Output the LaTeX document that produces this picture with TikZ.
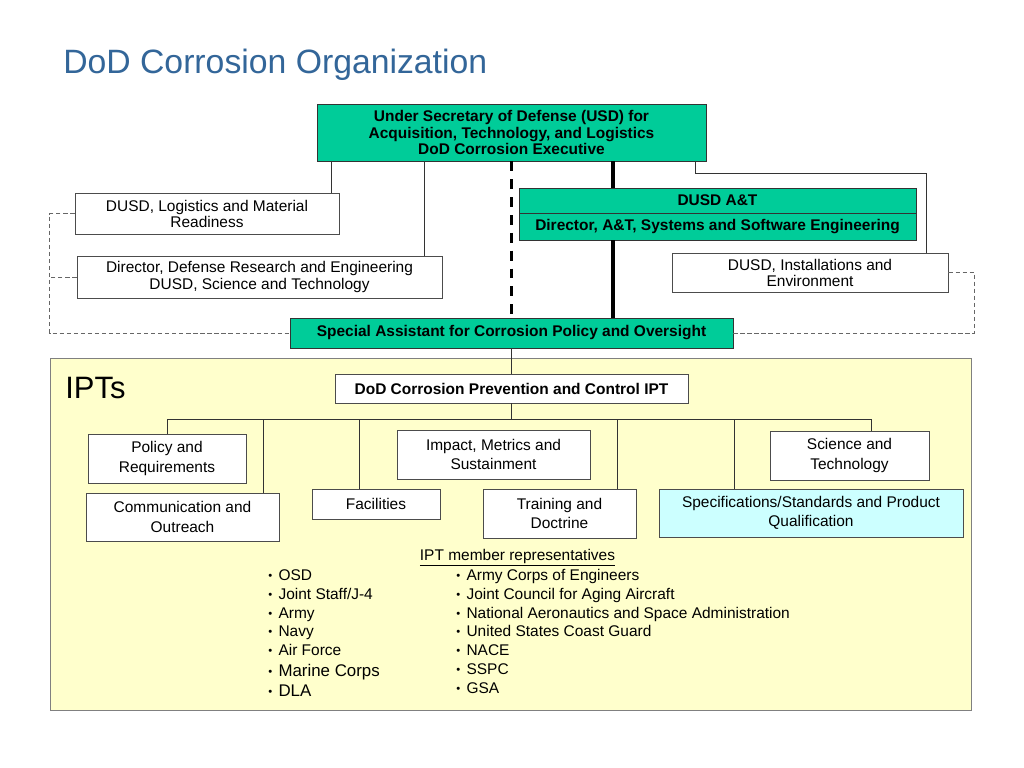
\documentclass[tikz,border=0pt]{standalone}
\usepackage{fontspec}
\setmainfont{Liberation Sans}
\usetikzlibrary{positioning}

\definecolor{corrgreen}{RGB}{0,204,153}
\definecolor{corrblue}{RGB}{51,102,153}
\definecolor{corryellow}{RGB}{255,255,204}
\definecolor{corrcyan}{RGB}{204,255,255}

\newcommand{\repdot}{\raisebox{0.5pt}{\fontsize{8}{8}\selectfont\textbullet}\hspace{4.5pt}}

\begin{document}
\begin{tikzpicture}
    [x=0.025cm,y=-0.025cm,
    box/.style={shape=rectangle,draw=black!70,line width=0.6pt,inner sep=0pt,align=center,fill=white,
      font=\fontsize{11}{11.4}\selectfont},
    head/.style={box,fill=corrgreen,draw=black!80,font=\bfseries\fontsize{11}{11.4}\selectfont},
    team/.style={box,font=\fontsize{11}{13.6}\selectfont},
    member/.style={anchor=base west,inner sep=0pt},
    edge/.style={draw=black!80,line width=0.6pt},
    thickedge/.style={line width=2.8pt},
    thickdash/.style={line width=2.5pt,dash pattern=on 7pt off 5.7pt},
    dashedge/.style={draw=black!60,line width=0.6pt,dash pattern=on 3pt off 2pt}]

    \fill [white] (0,0) rectangle (1024,768);
    \useasboundingbox (0,0) rectangle (1024,768);

    \node (title) [anchor=base west,inner sep=0pt,text=corrblue,font=\fontsize{24}{28}\selectfont] at (63,74) {DoD Corrosion Organization};

    % top of the organization
    \node (usd) [head,minimum width=97.25mm,minimum height=14.25mm] at (511.5,132.5) {Under Secretary of Defense (USD) for\\Acquisition, Technology, and Logistics\\DoD Corrosion Executive};
    \node (logi) [box,minimum width=66mm,minimum height=10.25mm] at (207,213.5) {DUSD, Logistics and Material\\Readiness};
    \node (ddre) [box,minimum width=91.25mm,minimum height=10.5mm] at (259.5,277) {Director, Defense Research and Engineering\\DUSD, Science and Technology};
    \node (atop) [head,minimum width=99.25mm,minimum height=6.25mm] at (717.5,200.5) {DUSD A\&T};
    \node (abot) [head,minimum width=99.25mm,minimum height=6.75mm] at (717.5,226.5) {Director, A\&T, Systems and Software Engineering};
    \node (ie) [box,minimum width=69mm,minimum height=9.75mm] at (810,272.5) {DUSD, Installations and\\Environment};
    \node (sapo) [head,minimum width=110.75mm,minimum height=7.5mm] at (511.5,333) {Special Assistant for Corrosion Policy and Oversight};

    \coordinate (logitop) at ([xshift=-2mm]logi.north east);
    \coordinate (ddretop) at ([xshift=-4.5mm]ddre.north east);
    \foreach \t in {logitop,ddretop}
        \draw [edge] (\t) -- (\t |- usd.south);
    \draw [thickdash] (usd.south) -- (sapo.north);
    \coordinate (solid) at ([xshift=25.4mm]usd.south);
    \draw [thickedge] (solid) -- (solid |- atop.north);
    \draw [thickedge] (solid |- abot.south) -- (solid |- sapo.north);
    \coordinate (usdie) at ([xshift=-2.75mm]usd.south east);
    \coordinate (ietop) at ([xshift=-5.5mm]ie.north east);
    \draw [edge] (usdie) -- ++(0,12) -| (ietop);
    \draw [dashedge] (ie.east) -- ++(26,0) |- (sapo.east);
    \draw [dashedge] (logi.west) -- ++(-25,0) |- (sapo.west);
    \draw [dashedge] (ddre.west) -- ++(-27,0);

    % IPTs
    \node (area) [draw=black!50,fill=corryellow,line width=0.6pt,inner sep=0pt,minimum width=230mm,minimum height=88mm] at (511,534) {};
    \node (ipts) [anchor=base west,inner sep=0pt,font=\fontsize{22}{26}\selectfont] at (65,398) {IPTs};
    \node (ipt) [box,font=\bfseries\fontsize{11}{11.4}\selectfont,minimum width=88.25mm,minimum height=7.25mm] at (511.5,388.5) {DoD Corrosion Prevention and Control IPT};
    \draw [edge] (sapo.south) -- (ipt.north);

    \node (policy) [team,minimum width=39.5mm,minimum height=12.25mm] at (167,458.5) {Policy and\\Requirements};
    \node (comm) [team,minimum width=48.25mm,minimum height=12mm] at (182.5,517) {Communication and\\Outreach};
    \node (fac) [team,minimum width=32mm,minimum height=7.5mm] at (376,504) {Facilities};
    \node (impact) [team,minimum width=48.25mm,minimum height=12.25mm] at (493.5,454.5) {Impact, Metrics and\\Sustainment};
    \node (train) [team,minimum width=38.25mm,minimum height=12.25mm] at (559.5,513.5) {Training and\\Doctrine};
    \node (sci) [team,minimum width=39.75mm,minimum height=12.25mm] at (849.5,455.5) {Science and\\Technology};
    \node (spec) [team,fill=corrcyan,minimum width=76mm,minimum height=12mm] at (811,513) {Specifications/Standards and Product\\Qualification};

    \coordinate (bus) at ([yshift=-4mm]ipt.south);
    \draw [edge] (ipt.south) -- (bus);
    \coordinate (scitop) at ([xshift=5.6mm]sci.north);
    \draw [edge] (policy.north) |- (bus) -| (scitop);
    \coordinate (commtop) at ([xshift=-4mm]comm.north east);
    \coordinate (factop) at ([xshift=-4.25mm]fac.north);
    \coordinate (traintop) at ([xshift=-4.75mm]train.north east);
    \coordinate (spectop) at ([xshift=19mm]spec.north west);
    \foreach \t in {commtop,factop,traintop,spectop}
        \draw [edge] (\t) -- (\t |- bus);

    % member representatives
    \node (reps) [anchor=base,inner sep=0pt,font=\fontsize{11}{13}\selectfont] at (517.5,560) {\underline{IPT member representatives}};
    \foreach \y/\txt/\sz [count=\i] in {580/OSD/11, 599/{Joint Staff/J-4}/11, 618/Army/11, 636/Navy/11,
        655/Air Force/11, 676/Marine Corps/12, 696/DLA/12}
        \node (lrep\i) [member,font=\fontsize{\sz}{14}\selectfont] at (268,\y) {\repdot\txt};
    \foreach \y/\txt [count=\i] in {580/Army Corps of Engineers, 599/Joint Council for Aging Aircraft,
        618/National Aeronautics and Space Administration, 636/United States Coast Guard,
        655/NACE, 674/SSPC, 693/GSA}
        \node (rrep\i) [member,font=\fontsize{11}{14}\selectfont] at (456,\y) {\repdot\txt};

\end{tikzpicture}
\end{document}
